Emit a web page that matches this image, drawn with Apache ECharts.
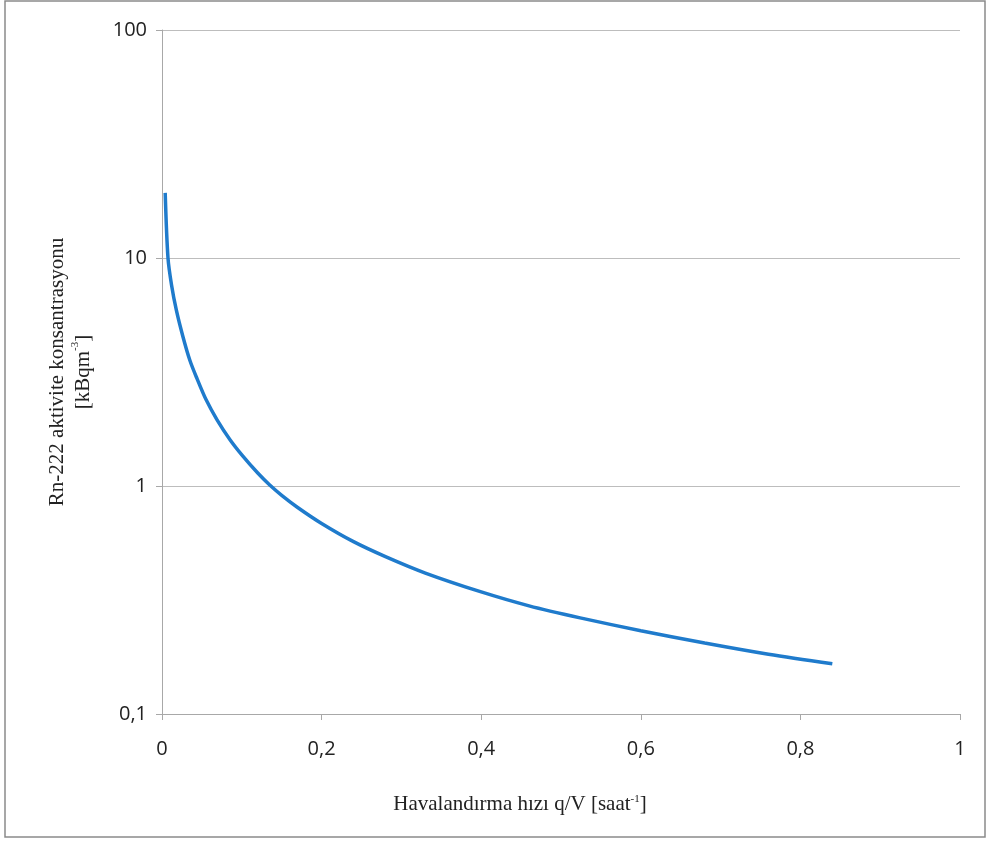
<!DOCTYPE html>
<html>
<head>
<meta charset="utf-8">
<script src="https://cdn.jsdelivr.net/npm/echarts@6/dist/echarts.min.js"></script>
<style>
  html, body { margin: 0; padding: 0; background: #fff; }
  #chart { width: 992px; height: 843px; }
</style>
</head>
<body>
<div id="chart"></div>
<script>
// havalandırma hızı (x) ve Rn-222 konsantrasyonu (y)
const ventRate = [0.004, 0.0075, 0.012, 0.018, 0.026, 0.035, 0.044, 0.055, 0.069, 0.085, 0.1, 0.12, 0.135, 0.15, 0.17, 0.2, 0.24, 0.28, 0.33, 0.4, 0.46, 0.524, 0.6, 0.68, 0.76, 0.84];
const rnConc = [19.3, 10, 7.6, 5.9, 4.55, 3.55, 2.95, 2.4, 1.95, 1.6, 1.37, 1.14, 1.01, 0.91, 0.805, 0.685, 0.57, 0.49, 0.415, 0.343, 0.298, 0.264, 0.232, 0.205, 0.183, 0.166];
const xTicks = [0, 0.2, 0.4, 0.6, 0.8, 1];

const chart = echarts.init(document.getElementById('chart'));

const comma = v => String(+v.toFixed(2)).replace('.', ',');

const option = {
  animation: false,
  graphic: [{
    type: 'rect',
    shape: { x: 5, y: 1, width: 980, height: 836 },
    style: { fill: 'none', stroke: '#8a8a8a', lineWidth: 1.5 }
  }],
  grid: { left: 162, right: 32, top: 30, bottom: 129 },
  xAxis: {
    type: 'value',
    min: 0,
    max: 1,
    interval: 0.2,
    name: 'Havalandırma hızı q/V [saat{s|-1}]',
    nameLocation: 'middle',
    nameGap: 80,
    nameTextStyle: {
      fontFamily: 'Liberation Serif',
      fontSize: 21,
      color: '#222',
      padding: [0, 82, 0, 0],
      rich: { s: { fontFamily: 'Liberation Serif', fontSize: 11, verticalAlign: 'top', padding: [0, 0, 8, 0], color: '#222' } }
    },
    axisLine: { show: true, lineStyle: { color: '#a8a8a8', width: 1 } },
    axisTick: { show: true, length: 6, lineStyle: { color: '#a8a8a8' } },
    axisLabel: {
      margin: 25,
      fontFamily: 'Open Sans',
      fontSize: 20,
      color: '#222',
      formatter: v => xTicks.includes(+v.toFixed(2)) ? comma(v) : ''
    },
    splitLine: { show: false }
  },
  yAxis: {
    type: 'log',
    min: 0.1,
    max: 100,
    logBase: 10,
    name: 'Rn-222 aktivite konsantrasyonu\n[kBqm{s|-3}]',
    nameLocation: 'middle',
    nameGap: 66,
    nameTextStyle: {
      fontFamily: 'Liberation Serif',
      fontSize: 21,
      lineHeight: 26,
      color: '#222',
      rich: { s: { fontFamily: 'Liberation Serif', fontSize: 11, verticalAlign: 'top', padding: [0, 0, 8, 0], color: '#222' } }
    },
    axisLine: { show: true, lineStyle: { color: '#a8a8a8', width: 1 } },
    axisTick: { show: true, length: 6, lineStyle: { color: '#a8a8a8' } },
    axisLabel: {
      margin: 15,
      fontFamily: 'Open Sans',
      fontSize: 20,
      color: '#222',
      formatter: v => comma(v)
    },
    splitLine: { show: true, lineStyle: { color: '#bdbdbd', width: 1 } }
  },
  series: [{
    type: 'line',
    data: ventRate.map((x, i) => [x, rnConc[i]]),
    smooth: 0.3,
    showSymbol: false,
    lineStyle: { color: '#1f7bcc', width: 3.5 }
  }]
};

chart.setOption(option);
window.addEventListener('resize', () => chart.resize());
</script>
</body>
</html>
